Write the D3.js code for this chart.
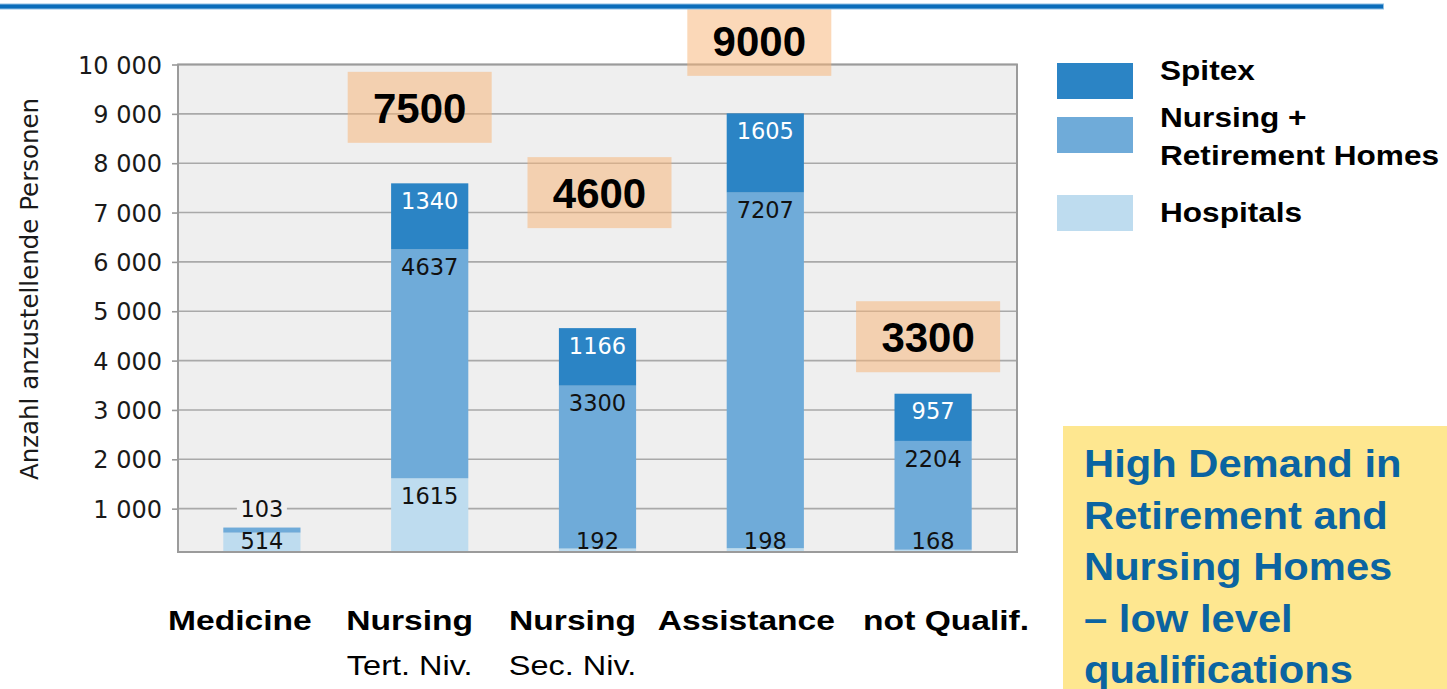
<!DOCTYPE html>
<html><head><meta charset="utf-8">
<script src="https://cdn.jsdelivr.net/npm/d3@7"></script>
<style>html,body{margin:0;padding:0;background:#fff;} svg{display:block;}</style>
</head><body>
<svg id="chart" width="1447" height="689"></svg>
<script>
// ---------- data ----------
const categories = ["Medicine", "Nursing Tert. Niv.", "Nursing Sec. Niv.", "Assistance", "not Qualif."];
const catLine1 = ["Medicine", "Nursing", "Nursing", "Assistance", "not Qualif."];
const catLine2 = ["", "Tert. Niv.", "Sec. Niv.", "", ""];
const seriesKeys = ["hospitals", "nursing", "spitex"];
const legendNames = [["Spitex"], ["Nursing +", "Retirement Homes"], ["Hospitals"]];
const hospitals = [514, 1615, 192, 198, 168];
const nursingHomes = [103, 4637, 3300, 7207, 2204];
const spitex = [0, 1340, 1166, 1605, 957];
const totalsRounded = [null, 7500, 4600, 9000, 3300];
const yTicks = [1000, 2000, 3000, 4000, 5000, 6000, 7000, 8000, 9000, 10000];
const yTitle = "Anzahl anzustellende Personen";
const noteLines = ["High Demand in", "Retirement and", "Nursing Homes", "\u2013 low level", "qualifications"];

// ---------- layout / style ----------
const colors = { spitex: "#2b84c5", nursing: "#6fabd9", hospitals: "#bedcef" };
const plot = { left: 178, right: 1017, top: 64.5, bottom: 552 };
const zeroY = 558;
const catLabelDx = [-22, -20, -25, -19, 13];
const boxDx = [0, -10, 2, -6, -5];
const boxRise = [0, 76, 135.5, 73, 57];

const table = categories.map((c, i) => ({ cat: c, hospitals: hospitals[i], nursing: nursingHomes[i], spitex: spitex[i] }));

const svg = d3.select("#chart");
const x = d3.scaleBand().domain(categories).range([plot.left, plot.right]).paddingInner(0.54).paddingOuter(0.27);
const y = d3.scaleLinear().domain([0, 10000]).range([zeroY, plot.top]);

// plot background
svg.append("rect").attr("x", plot.left).attr("y", plot.top).attr("width", plot.right - plot.left)
  .attr("height", plot.bottom - plot.top).attr("fill", "#efefef");

// gridlines
svg.append("g").selectAll("line").data(yTicks).join("line")
  .attr("x1", plot.left).attr("x2", plot.right)
  .attr("y1", d => y(d)).attr("y2", d => y(d))
  .attr("stroke", "#a9a9a9").attr("stroke-width", 1.6);

// axis
const fmt = d3.formatLocale({ decimal: ".", thousands: " ", grouping: [3], currency: ["", ""] }).format(",");
const yAxis = svg.append("g").attr("transform", `translate(${plot.left},0)`)
  .call(d3.axisLeft(y).tickValues(yTicks).tickSize(6).tickPadding(10).tickFormat(fmt));
yAxis.select(".domain").remove();
yAxis.selectAll(".tick line").attr("stroke", "#999").attr("stroke-width", 1.6);
yAxis.selectAll(".tick text").attr("font-family", "DejaVu Sans").attr("font-size", 24).attr("fill", "#1a1a1a")
  .attr("dy", "0.36em");

// clip
svg.append("defs").append("clipPath").attr("id", "pc").append("rect")
  .attr("x", plot.left).attr("y", plot.top).attr("width", plot.right - plot.left).attr("height", plot.bottom - plot.top);

const stacked = d3.stack().keys(seriesKeys)(table);
const barsG = svg.append("g").attr("clip-path", "url(#pc)");
stacked.forEach(layer => {
  barsG.append("g").selectAll("rect").data(layer).join("rect")
    .attr("x", d => x(d.data.cat)).attr("width", x.bandwidth())
    .attr("y", d => y(d[1])).attr("height", d => y(d[0]) - y(d[1]))
    .attr("fill", colors[layer.key]);
});

// plot frame
svg.append("rect").attr("x", plot.left).attr("y", plot.top).attr("width", plot.right - plot.left)
  .attr("height", plot.bottom - plot.top).attr("fill", "none").attr("stroke", "#9b9b9b").attr("stroke-width", 2);

// segment labels
const labF = 22.5;
const labG = svg.append("g");
stacked.forEach((layer, li) => {
  layer.forEach(d => {
    const v = d[1] - d[0];
    if (v <= 0) return;
    const top = y(d[1]);
    const h = y(d[0]) - top;
    const cx = x(d.data.cat) + x.bandwidth() / 2;
    let cy, outside = false;
    if (li === 0) cy = Math.min(top + 17.5, 541);
    else if (h < 14) { cy = top - 18.5; outside = true; }
    else cy = top + 17.5;
    if (outside) {
      labG.append("rect").attr("x", cx - 25).attr("y", cy - 11).attr("width", 50).attr("height", 22).attr("fill", "#efefef");
    }
    labG.append("text").attr("x", cx).attr("y", cy + 0.365 * labF).attr("text-anchor", "middle")
      .attr("font-family", "DejaVu Sans").attr("font-size", labF)
      .attr("fill", layer.key === "spitex" ? "#fff" : "#111").text(v);
  });
});

// y title
svg.append("text").attr("transform", "translate(38,289) rotate(-90)").attr("text-anchor", "middle")
  .attr("font-family", "DejaVu Sans").attr("font-size", 24.5).attr("fill", "#1a1a1a").text(yTitle);

// total boxes
const boxG = svg.append("g");
table.forEach((d, i) => {
  if (totalsRounded[i] == null) return;
  const total = d.hospitals + d.nursing + d.spitex;
  const cx = x(d.cat) + x.bandwidth() / 2 + boxDx[i];
  const cy = y(total) - boxRise[i];
  boxG.append("rect").attr("x", cx - 72).attr("y", cy - 35.5).attr("width", 144).attr("height", 71)
    .attr("fill", "rgb(247,180,118)").attr("fill-opacity", 0.52);
  boxG.append("text").attr("x", cx).attr("y", cy + 15.5).attr("text-anchor", "middle")
    .attr("font-family", "Liberation Sans, Arial, sans-serif").attr("font-weight", "bold")
    .attr("font-size", 42).attr("fill", "#000").text(totalsRounded[i]);
});

// top blue rule
svg.append("rect").attr("x", 0).attr("y", 3.5).attr("width", 1384).attr("height", 6).attr("fill", "#8fbfe4");
svg.append("rect").attr("x", 0).attr("y", 4.5).attr("width", 1383).attr("height", 4).attr("fill", "#0b6dba");

// category labels
const catG = svg.append("g").attr("font-family", "Liberation Sans, Arial, sans-serif").attr("fill", "#000");
categories.forEach((c, i) => {
  const cx = x(c) + x.bandwidth() / 2 + catLabelDx[i];
  catG.append("text").attr("transform", `translate(${cx},630) scale(1.2,1)`).attr("text-anchor", "middle")
    .attr("font-weight", "bold").attr("font-size", 28).text(catLine1[i]);
  if (catLine2[i]) {
    catG.append("text").attr("transform", `translate(${cx},675) scale(1.16,1)`).attr("text-anchor", "middle")
      .attr("font-size", 28).text(catLine2[i]);
  }
});

// legend
const legG = svg.append("g").attr("font-family", "Liberation Sans, Arial, sans-serif").attr("font-weight", "bold").attr("fill", "#000");
const legKeys = ["spitex", "nursing", "hospitals"];
const legSwY = [63, 117, 195];
const legTextY = [[80], [127, 165], [222]];
legKeys.forEach((k, i) => {
  legG.append("rect").attr("x", 1057).attr("y", legSwY[i]).attr("width", 76).attr("height", 36).attr("fill", colors[k]);
  legendNames[i].forEach((t, j) => {
    legG.append("text").attr("transform", `translate(1160,${legTextY[i][j]}) scale(1.17,1)`)
      .attr("font-size", 27).text(t);
  });
});

// note box
svg.append("rect").attr("x", 1063).attr("y", 426).attr("width", 1447 - 1063).attr("height", 689 - 426).attr("fill", "#fee790");
const noteG = svg.append("g").attr("font-family", "Liberation Sans, Arial, sans-serif").attr("font-weight", "bold").attr("fill", "#0b64a1");
noteLines.forEach((t, i) => {
  noteG.append("text").attr("transform", `translate(1084,${477 + i * 51.5}) scale(1.07,1)`).attr("font-size", 39).text(t);
});
</script>
</body></html>
